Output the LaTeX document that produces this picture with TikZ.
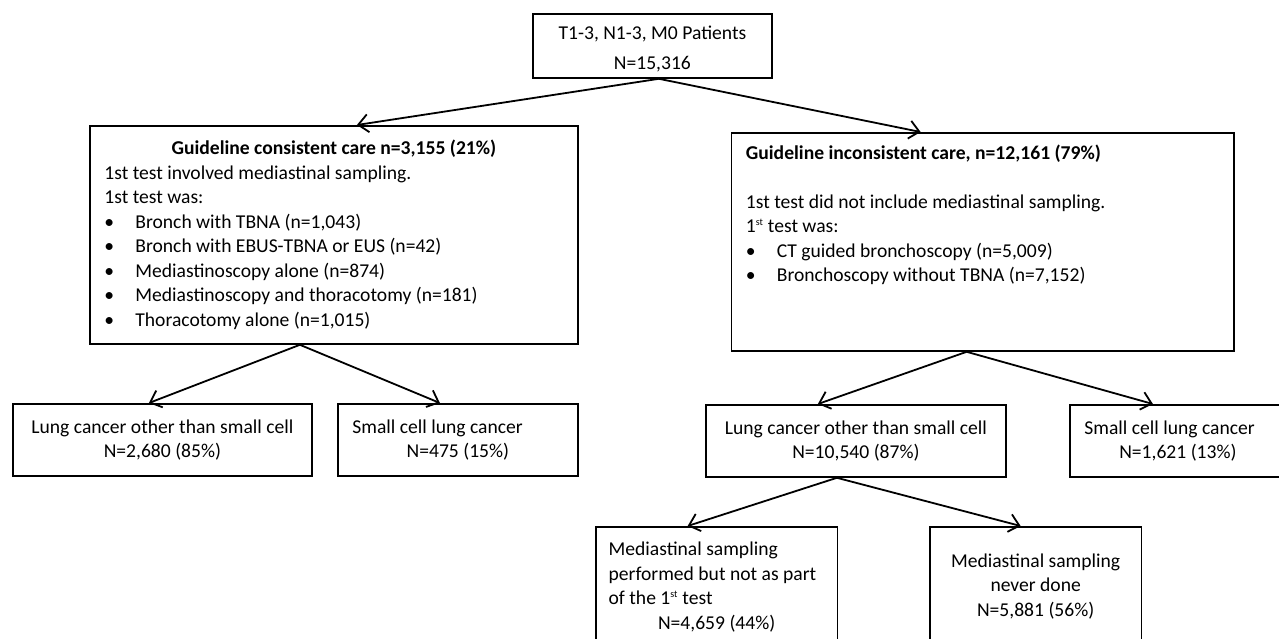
\documentclass[tikz,border=0pt]{standalone}
\usepackage{fontspec}
\setmainfont{Carlito}
\usepackage{tikz}
\usetikzlibrary{calc}
\usetikzlibrary{arrows.meta}
\usetikzlibrary{positioning}
\tikzset{block/.style={draw, line width=1.8pt, anchor=north west, inner xsep=14.5pt, font=\fontsize{19.6}{24.5}\selectfont}}
\tikzset{connect/.style={draw, line width=1.8pt, >={Straight Barb[length=10pt,width=18pt]}}}
\newcommand{\bulletitem}[1]{\makebox[31pt][l]{\textbullet}#1}
\newcommand{\midline}[1]{\makebox[\linewidth]{#1}}
\newcommand{\st}{\textsuperscript{\fontsize{10}{10}\selectfont st}}

\begin{document}
\begin{tikzpicture}[x=1pt,y=-1pt]
\useasboundingbox (0,0) rectangle (1279,639);
\clip (0,0) rectangle (1279,639);

\node[block,minimum width=239pt,minimum height=64pt,align=center] (patients) at (532,13) {\rule{0pt}{20pt}T1-3, N1-3, M0 Patients\\[5pt]N=15,316};

\node[block,minimum height=218pt,text width=459pt,align=flush left] (consistent) at (89,125) {\midline{\textbf{Guideline consistent care n=3,155 (21\%)}}\\1st test involved mediastinal sampling.\\1st test was:\\\bulletitem{Bronch with TBNA (n=1,043)}\\\bulletitem{Bronch with EBUS-TBNA or EUS (n=42)}\\\bulletitem{Mediastinoscopy alone (n=874)}\\\bulletitem{Mediastinoscopy and thoracotomy (n=181)}\\\bulletitem{Thoracotomy alone (n=1,015)}};
\node[block,minimum height=218pt,text width=473.5pt,align=flush left] (inconsistent) at (730.5,132) {\textbf{Guideline inconsistent care, n=12,161 (79\%)}\\\mbox{}\\1st test did not include mediastinal sampling.\\1\st{} test was:\\\bulletitem{CT guided bronchoscopy (n=5,009)}\\\bulletitem{Bronchoscopy without TBNA (n=7,152)}\\\mbox{}\\[8pt]\mbox{}};

\node[block,minimum width=299pt,minimum height=72pt,align=center] (nsclcleft) at (12,403) {Lung cancer other than small cell\\N=2,680 (85\%)};
\node[block,minimum height=72pt,text width=211pt,align=flush left] (sclcleft) at (337,403) {Small cell lung cancer\\\midline{N=475 (15\%)}};
\node[block,minimum width=300pt,minimum height=72pt,align=center] (nsclcright) at (705,404) {Lung cancer other than small cell\\N=10,540 (87\%)};
\node[block,minimum height=72pt,text width=187pt,align=flush left] (sclcright) at (1069,404) {Small cell lung cancer\\\midline{N=1,621 (13\%)}};

\node[block,minimum height=120pt,text width=216pt,inner xsep=12.75pt,align=flush left] (later) at (595,526) {Mediastinal sampling\\performed but not as part\\of the 1\st{} test\\\midline{N=4,659 (44\%)}};
\node[block,minimum width=211.5pt,minimum height=119pt,align=center] (never) at (929,526) {Mediastinal sampling\\never done\\N=5,881 (56\%)};

\path[connect,->] ([xshift=6.5pt]patients.south) -- ([xshift=23pt]consistent.north);
\path[connect,->] ([xshift=6.5pt]patients.south) -- ([xshift=-62pt]inconsistent.north);

\path[connect,->] ([xshift=-34pt]consistent.south) -- ([xshift=-13.5pt]nsclcleft.north);
\path[connect,->] ([xshift=-34pt]consistent.south) -- ([xshift=-18pt]sclcleft.north);

\path[connect,->] ([xshift=-16pt]inconsistent.south) -- ([xshift=-38pt]nsclcright.north);
\path[connect,->] ([xshift=-16pt]inconsistent.south) -- ([xshift=-25pt]sclcright.north);

\path[connect,->] ([xshift=-19pt]nsclcright.south) -- ([xshift=-29pt]later.north);
\path[connect,->] ([xshift=-19pt]nsclcright.south) -- ([xshift=-15pt]never.north);

\end{tikzpicture}
\end{document}
